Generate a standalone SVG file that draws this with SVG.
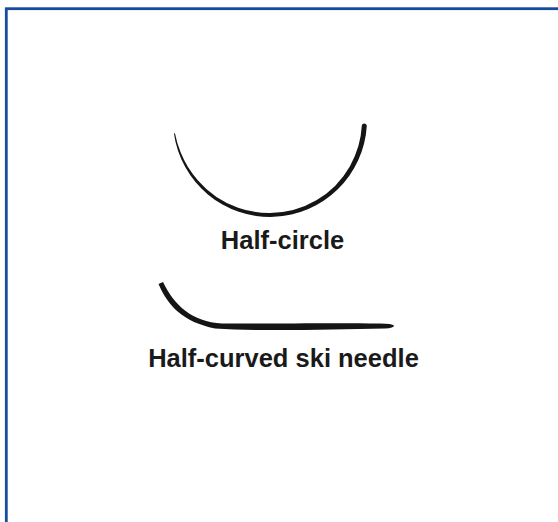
<svg xmlns="http://www.w3.org/2000/svg" width="558" height="522" viewBox="0 0 558 522">
<style>
.lbl{font-family:"Liberation Sans",Arial,sans-serif;font-weight:bold;font-size:25.5px;fill:#1a1a1a;text-anchor:middle}
.needle{fill:#151515}
</style>
<rect x="0" y="0" width="558" height="522" fill="#ffffff"/>
<rect x="6.3" y="8.7" width="620" height="600" fill="none" stroke="#154c9e" stroke-width="2.8"/>
<g id="half-circle">
<path class="needle" d="M 173.94 133.5 A 97 97 0 0 0 366.8 125.9 A 2.5 2.5 0 0 0 361.83 125.62 A 92 92 0 0 1 349.93 166.15 A 92.5 92.5 0 0 1 316.35 200.28 A 92.8 92.8 0 0 1 270 213 A 93.2 93.2 0 0 1 238.09 207.67 A 93.6 93.6 0 0 1 197.99 180.42 A 94.5 94.5 0 0 1 180.73 152.49 A 95.5 95.5 0 0 1 174.93 133.36 Z"/>
<text class="lbl" x="282.5" y="249">Half-circle</text>
</g>
<g id="ski-needle">
<path class="needle" d="M 158.5 284 C 168 306, 183 322, 215 328.5 C 260 331.5, 330 329.5, 385 328.5 Q 394 328, 394 325.5 Q 392 323.5, 380 323.5 C 330 322.5, 260 324, 222 323.5 C 192 322, 174 305, 163 282 Z"/>
<text class="lbl" x="283.5" y="366.5">Half-curved ski needle</text>
</g>
<g id="connectors"></g>
</svg>
